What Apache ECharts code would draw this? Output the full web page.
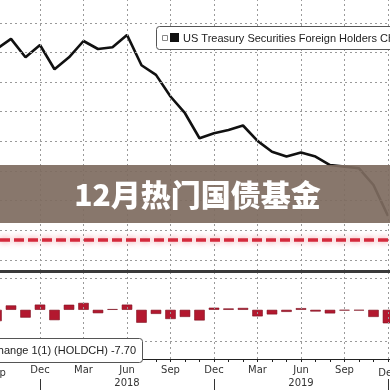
<!DOCTYPE html>
<html><head><meta charset="utf-8">
<script src="https://cdn.jsdelivr.net/npm/echarts@6/dist/echarts.min.js"></script>
<style>html,body{margin:0;padding:0;background:#fff}#c{width:390px;height:390px}</style>
</head><body><div id="c"></div>
<script>
// Sep 2017 .. Dec 2019 (index 0..27)
const monthNames = ['Sep','Oct','Nov','Dec','Jan','Feb','Mar','Apr','May','Jun','Jul','Aug'];
const yearLabels = {9:'2018', 21:'2019'};
const holdings = [1182.4,1189.2,1176.8,1185.1,1168.7,1176.8,1187.8,1182.4,1183.6,1191.9,1171.4,1164.9,
  1150.3,1139.0,1122.1,1125.5,1127.7,1130.7,1120.3,1113.0,1109.7,1112.4,1109.7,1104.0,1102.9,1101.8,1090.5,1069.6];
const changes = [-18,7,-12.4,8.3,-16.4,8.1,11,-5.4,1.2,8.3,-20.5,-6.5,-14.6,-11.3,-16.9,3.4,2.2,3,-10.4,-7.3,-3.3,2.7,-2.7,-5.7,-1.1,-1.1,-11.3,-21.4];
const refLevel = 1053.4;
const topGridValues = [1040,1060,1080,1100,1120,1140,1160,1180,1200];
const barGridValues = [50,-50];
const quarterIdx = [0,3,6,9,12,15,18,21,24,27];
const monthIdx = [1,2,3,4,5,6,7,8,9,10,11,12,13,14,15,16,17,18,19,20,21,22,23,24,25,26,27];
const yearTickIdx = [3,15,27];
const legendTop = 'US Treasury Securities Foreign Holders China';
const legendBottom = 'Change 1(1) (HOLDCH) -7.70';
const titleText = '12月热门国债基金';

const chart = echarts.init(document.getElementById('c'));
const dotted = {color:'#9a9a9a', width:1, type:[2,3]};
const xMin = 0.2414, xMax = 27.138;
const labelFmt = function(v){
  const i = Math.round(v);
  const m = monthNames[((i % 12) + 12) % 12];
  return yearLabels[i] ? m + '\n' + yearLabels[i] : m;
};
const vLines = quarterIdx.filter(i=>i>xMin).map(i=>({xAxis:i}));

chart.setOption({
  backgroundColor:'#fff',
  animation:false,
  grid:[
    {left:0, right:0, top:0, height:271},
    {left:0, right:0, top:272, height:91}
  ],
  xAxis:[
    {type:'value', gridIndex:0, min:xMin, max:xMax, show:false, splitLine:{show:false}},
    {type:'value', gridIndex:1, min:xMin, max:xMax, splitLine:{show:false},
      axisLine:{show:true, onZero:false, lineStyle:{color:'#222', width:1}},
      axisTick:{show:true, length:3, customValues:monthIdx, lineStyle:{color:'#222'}},
      axisLabel:{show:true, color:'#333', fontFamily:'DejaVu Sans', fontSize:10, margin:5, lineHeight:13,
        hideOverlap:false, alignMinLabel:'center', alignMaxLabel:'center',
        customValues:quarterIdx.filter(i=>i>xMin && i<27), formatter:labelFmt}}
  ],
  yAxis:[
    {type:'value', gridIndex:0, min:1032.4, max:1215.5, show:false, splitLine:{show:false}},
    {type:'value', gridIndex:1, min:-78, max:60, show:false, splitLine:{show:false}}
  ],
  series:[
    {type:'line', xAxisIndex:0, yAxisIndex:0, data:[], silent:true, symbol:'none',
      markLine:{silent:true, symbol:'none', label:{show:false}, lineStyle:dotted,
        data: topGridValues.map(v=>({yAxis:v})).concat(vLines)}},
    {type:'line', xAxisIndex:0, yAxisIndex:0, data:[], silent:true, symbol:'none', z:3,
      markLine:{silent:true, symbol:'none', label:{show:false},
        lineStyle:{color:'#d42a3c', width:3.5, type:[10,4], shadowBlur:6, shadowColor:'rgba(235,100,110,0.75)'},
        data:[{yAxis:refLevel}]}},
    {type:'line', xAxisIndex:0, yAxisIndex:0, z:4, symbol:'none',
      data: holdings.map((v,i)=>[i,v]),
      lineStyle:{color:'#111', width:2.6}},
    {type:'bar', xAxisIndex:1, yAxisIndex:1, barWidth:10.5, z:4,
      data: changes.map((v,i)=>[i,v]),
      itemStyle:{color:'#b3182f', borderColor:'#7d0f1f', borderWidth:0.6}},
    {type:'line', xAxisIndex:1, yAxisIndex:1, data:[], silent:true, symbol:'none', z:1,
      markLine:{silent:true, symbol:'none', label:{show:false}, lineStyle:dotted,
        data: barGridValues.map(v=>({yAxis:v})).concat(vLines)}}
  ]
});

const g = [];
g.push({type:'rect', shape:{x:0,y:270,width:390,height:3}, style:{fill:'#3a3a3a'}, z:10});
yearTickIdx.forEach(i=>{
  const px = Math.round(chart.convertToPixel({xAxisIndex:1}, i)) + 0.5;
  g.push({type:'line', shape:{x1:px,y1:379,x2:px,y2:390}, style:{stroke:'#333', lineWidth:1}, z:10});
});
// edge quarter labels (partially visible)
[quarterIdx[0], quarterIdx[quarterIdx.length-1]].forEach(i=>{
  const p = chart.convertToPixel({xAxisIndex:1}, i);
  g.push({type:'text', x:p, y:368, style:{text:labelFmt(i), fill:'#333', font:'10px "DejaVu Sans"', textAlign:'center', textVerticalAlign:'top'}, z:10});
});
// top legend box
g.push({type:'rect', shape:{x:156.5,y:26.5,width:260,height:23,r:3}, style:{fill:'#fff', stroke:'#555', lineWidth:1}, z:20});
g.push({type:'rect', shape:{x:162.5,y:35.5,width:5,height:5}, style:{fill:'#fff', stroke:'#888', lineWidth:1}, z:21});
g.push({type:'rect', shape:{x:170,y:33,width:9,height:9}, style:{fill:'#111'}, z:21});
g.push({type:'text', x:183, y:38.5, style:{text:legendTop, fill:'#222', font:'11px "Liberation Sans", Arial', textVerticalAlign:'middle', textAlign:'left'}, z:21});
// bottom legend box
g.push({type:'rect', shape:{x:-10.5,y:338.5,width:153,height:24,r:3}, style:{fill:'#fff', stroke:'#555', lineWidth:1}, z:20});
g.push({type:'text', x:136, y:351, style:{text:legendBottom, fill:'#222', font:'11px "Liberation Sans", Arial', textVerticalAlign:'middle', textAlign:'right'}, z:21});
// title band
g.push({type:'rect', shape:{x:0,y:165,width:390,height:58}, style:{fill:'rgba(126,107,96,0.92)'}, z:50});
g.push({type:'text', x:197.5, y:195, style:{text:titleText, fill:'#fff', font:'900 30px "Noto Sans CJK SC"', textAlign:'center', textVerticalAlign:'middle'}, z:51});
chart.setOption({graphic:g});
</script></body></html>
